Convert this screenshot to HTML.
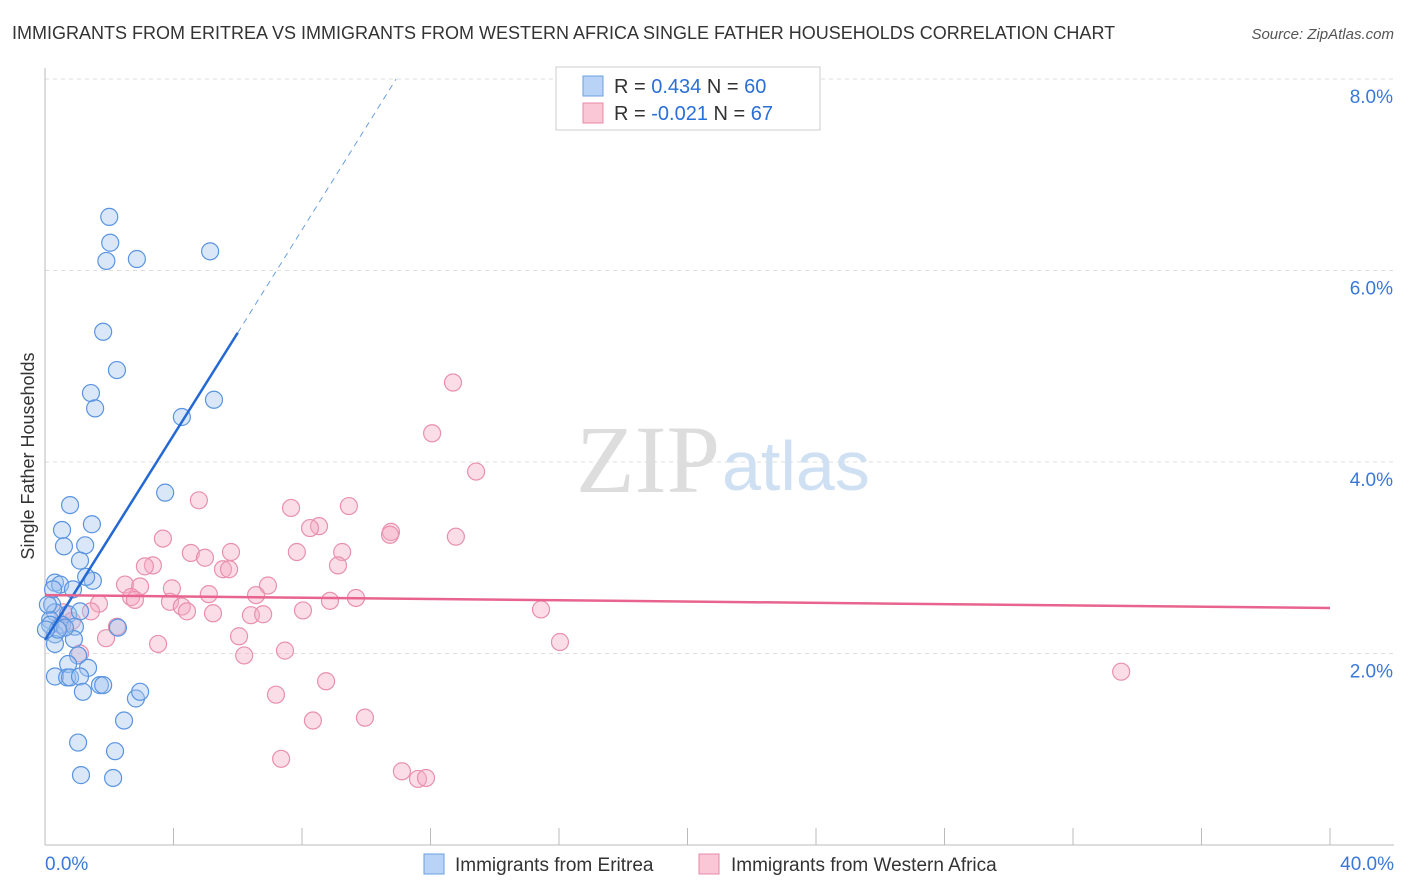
<!DOCTYPE html>
<html><head><meta charset="utf-8"><style>
body{margin:0;background:#fff;font-family:"Liberation Sans",sans-serif}
#c{position:absolute;left:0;top:0}
</style></head><body>
<svg id="c" width="1406" height="892" xmlns="http://www.w3.org/2000/svg">
<text x="12" y="39" font-size="18" fill="#333">IMMIGRANTS FROM ERITREA VS IMMIGRANTS FROM WESTERN AFRICA SINGLE FATHER HOUSEHOLDS CORRELATION CHART</text>
<text x="1394" y="39" font-size="15" fill="#555" font-style="italic" text-anchor="end">Source: ZipAtlas.com</text>
<text x="0" y="0" transform="translate(34,456) rotate(-90)" font-size="18" fill="#333" text-anchor="middle">Single Father Households</text>
<g id="grid"></g>
<text x="720" y="492" font-size="96" font-family="Liberation Serif,serif" fill="#ddd" text-anchor="end">ZIP</text>
<text x="722" y="490" font-size="70" fill="#cfe0f3">atlas</text>
<g id="pts"></g>
<g id="lines"></g>
<g>
<rect x="556" y="67" width="264" height="63" fill="#fff" stroke="#ccc"/>
<rect x="583" y="76" width="20" height="20" fill="#b8d3f5" stroke="#6a9fe0"/>
<rect x="583" y="103" width="20" height="20" fill="#f9c7d6" stroke="#e88aa8"/>
<text x="614" y="93" font-size="20" fill="#333">R = <tspan fill="#2a6fd6">0.434</tspan>   N = <tspan fill="#2a6fd6">60</tspan></text>
<text x="614" y="120" font-size="20" fill="#333">R = <tspan fill="#2a6fd6">-0.021</tspan>   N = <tspan fill="#2a6fd6">67</tspan></text>
</g>
<g>
<rect x="424" y="854" width="20" height="20" fill="#b8d3f5" stroke="#6a9fe0"/>
<text x="455" y="871" font-size="19" fill="#333">Immigrants from Eritrea</text>
<rect x="699" y="854" width="20" height="20" fill="#f9c7d6" stroke="#e88aa8"/>
<text x="731" y="871" font-size="19" fill="#333">Immigrants from Western Africa</text>
</g>
</svg>
<script>
const yTicks=[2,4,6,8];
const xTickLabels=["0.0%","40.0%"];
const blueX=[2.0,2.03,1.91,2.86,5.14,1.81,2.24,1.43,1.56,4.26,5.26,3.74,0.78,0.53,1.46,0.59,1.25,1.09,1.49,1.28,0.31,0.47,0.87,0.22,0.31,0.72,1.09,0.16,0.53,0.93,2.27,0.31,0.9,0.31,1.03,0.72,1.34,0.31,0.69,0.78,1.09,1.18,1.71,1.81,2.83,2.96,2.46,1.03,2.18,1.12,2.12,0.16,0.62,0.4,0.09,0.25,0.03];
const blueY=[6.56,6.29,6.1,6.12,6.2,5.36,4.96,4.72,4.56,4.47,4.65,3.68,3.55,3.29,3.35,3.12,3.13,2.97,2.76,2.8,2.74,2.72,2.67,2.51,2.43,2.41,2.44,2.35,2.3,2.28,2.27,2.2,2.15,2.1,1.98,1.89,1.85,1.76,1.75,1.75,1.76,1.6,1.67,1.67,1.53,1.6,1.30,1.07,0.98,0.73,0.70,2.3,2.27,2.25,2.51,2.67,2.25];
const pinkX=[12.7,12.05,13.42,4.79,7.66,9.46,8.53,8.25,10.77,10.74,12.79,3.67,5.79,7.84,9.25,4.54,4.98,3.36,3.11,9.12,5.54,5.73,2.49,2.96,3.95,6.94,5.1,6.57,2.68,2.8,9.68,8.87,3.89,4.26,1.68,8.03,15.44,6.41,4.42,5.23,1.43,6.79,2.24,0.56,0.84,6.04,0.47,1.9,3.52,16.03,6.2,7.47,1.09,33.5,7.19,8.75,8.34,9.96,7.35,11.11,11.61,11.86];
const pinkY=[4.83,4.3,3.9,3.6,3.52,3.54,3.33,3.31,3.27,3.24,3.22,3.2,3.06,3.06,3.06,3.05,3.0,2.92,2.91,2.92,2.88,2.88,2.72,2.7,2.68,2.71,2.62,2.61,2.59,2.56,2.58,2.55,2.54,2.49,2.52,2.45,2.46,2.4,2.44,2.42,2.44,2.41,2.28,2.43,2.34,2.18,2.3,2.16,2.1,2.12,1.98,2.03,2.0,1.81,1.57,1.71,1.3,1.33,0.9,0.77,0.69,0.7];
const blueTrend=[[0,2.14],[6.0,5.35]],blueDash=[[6.0,5.35],[10.93,8.0]];
const pinkTrend=[[0,2.61],[40,2.475]];
const X=v=>45+v/40*1285, Y=v=>845-v/2*191.5;
const NS="http://www.w3.org/2000/svg";
function mk(t,a,p){const e=document.createElementNS(NS,t);for(const k in a)e.setAttribute(k,a[k]);p.appendChild(e);return e;}
const g=document.getElementById('grid');
yTicks.forEach(v=>{const l=mk('line',{x1:45,x2:1394,y1:Y(v),y2:Y(v),stroke:'#ddd','stroke-dasharray':'4,4'},g);


const t=mk('text',{x:1393,y:Y(v)+24,'font-size':19,fill:'#3a78d8','text-anchor':'end'},g);t.textContent=v.toFixed(1)+'%';

});
mk('line',{x1:45,x2:45,y1:68,y2:845,stroke:'#bbb'},g);
mk('line',{x1:45,x2:1394,y1:845,y2:845,stroke:'#bbb'},g);
for(let i=0;i<=10;i++){mk('line',{x1:X(i*4),x2:X(i*4),y1:828,y2:845,stroke:'#bbb'},g);}
xTickLabels.forEach((s,i)=>{const t=mk('text',{x:i?1394:45,y:870,'font-size':19,fill:'#3a78d8','text-anchor':i?'end':'start'},g);t.textContent=s;

});
const p=document.getElementById('pts');
pinkX.forEach((x,i)=>{const c=mk('circle',{cx:X(x),cy:Y(pinkY[i]),r:8.5,fill:'rgba(246,170,196,0.4)',stroke:'#e890ae','stroke-width':1.2},p);

});
blueX.forEach((x,i)=>{const c=mk('circle',{cx:X(x),cy:Y(blueY[i]),r:8.5,fill:'rgba(160,196,240,0.4)',stroke:'#5a94e0','stroke-width':1.2},p);

});
const L=document.getElementById('lines');
let l1=mk('line',{x1:X(blueTrend[0][0]),y1:Y(blueTrend[0][1]),x2:X(blueTrend[1][0]),y2:Y(blueTrend[1][1]),stroke:'#2468d4','stroke-width':2.5},L);


let l2=mk('line',{x1:X(blueDash[0][0]),y1:Y(blueDash[0][1]),x2:X(blueDash[1][0]),y2:Y(blueDash[1][1]),stroke:'#6a9fe0','stroke-width':1,'stroke-dasharray':'6,5'},L);


let l3=mk('line',{x1:X(pinkTrend[0][0]),y1:Y(pinkTrend[0][1]),x2:X(pinkTrend[1][0]),y2:Y(pinkTrend[1][1]),stroke:'#e8648e','stroke-width':2.5},L);


</script>
</body></html>
